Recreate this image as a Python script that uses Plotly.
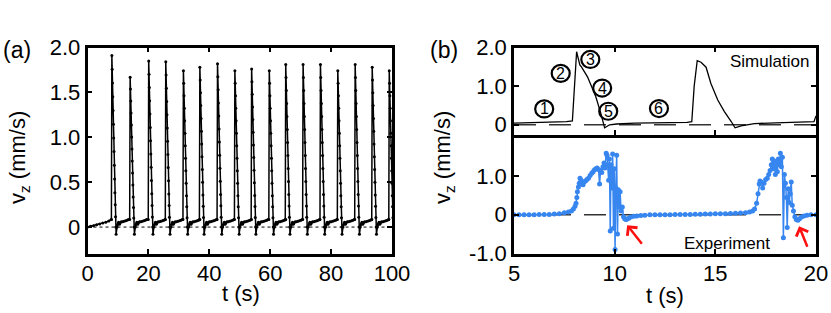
import plotly.graph_objects as go

# ---------------- Panel (a): long simulation -----------------
a_start_t = [0.0, 1.0, 2.0, 3.0, 4.0, 5.0, 6.0, 7.0, 7.8]
a_start_v = [0.0, 0.008, 0.016, 0.025, 0.035, 0.045, 0.055, 0.068, 0.085]
a_peak_t = [8.0, 14.0, 20.1, 25.7, 31.5, 36.9, 42.7, 48.4, 53.9, 59.7,
            65.1, 70.8, 76.5, 82.2, 87.9, 93.5, 99.1]
a_peak_v = [1.91, 1.67, 1.85, 1.84, 1.74, 1.78, 1.82, 1.74, 1.76, 1.74,
            1.81, 1.81, 1.81, 1.74, 1.81, 1.78, 1.74]
# shape of one spike (time after peak, fraction of peak)
a_decay_dt = [0.0, 0.1, 0.2, 0.3, 0.4, 0.5, 0.6, 0.7, 0.8, 0.9, 1.0, 1.1, 1.2, 1.3]
a_decay_frac = [1.0, 0.92, 0.84, 0.76, 0.68, 0.6, 0.52, 0.44, 0.36, 0.28, 0.2, 0.13, 0.06, 0.0]
# recovery after each spike (time after peak, mm/s)
a_tail_dt = [1.4, 1.7, 1.95, 2.2, 2.5, 2.8, 3.1, 3.5, 4.0, 4.5, 5.0, 5.4]
a_tail_v = [-0.08, 0.0, 0.03, 0.055, 0.03, 0.05, 0.06, 0.06, 0.065, 0.07, 0.075, 0.085]

# ---------------- Panel (b) top: simulation ------------------
sim_t = [5.0, 6.0, 7.0, 7.6, 7.9, 8.11, 8.27, 8.35, 8.65, 9.06, 9.31, 9.5,
         9.75, 10.1, 11.0, 12.0, 13.0, 13.6, 13.83, 13.95, 14.1, 14.29, 14.54,
         14.78, 15.12, 15.45, 15.78, 15.98, 16.28, 16.94, 18.0, 19.0, 19.9, 20.0]
sim_v = [0.04, 0.05, 0.06, 0.08, 0.1, 1.89, 1.55, 1.5, 1.24, 0.73, 0.3, -0.08,
         0.0, 0.02, 0.04, 0.045, 0.05, 0.06, 0.08, 1.0, 1.66, 1.62, 1.49,
         1.07, 0.64, 0.34, 0.09, -0.08, -0.03, 0.03, 0.05, 0.06, 0.08, 0.23]

# ---------------- Panel (b) bottom: experiment ---------------
exp_t = [5.0, 5.25, 5.5, 5.75, 6.0, 6.25, 6.5, 6.75, 7.0, 7.25, 7.5, 7.7, 7.85,
         7.95, 8.03, 8.08, 8.12, 8.15, 8.2, 8.24, 8.28, 8.33, 8.38, 8.43, 8.48,
         8.55, 8.62, 8.7, 8.78, 8.86, 8.93, 9.0, 9.07, 9.13, 9.2, 9.25, 9.3,
         9.36, 9.42, 9.47, 9.52, 9.58, 9.62, 9.66, 9.7, 9.74, 9.78, 9.82, 9.86,
         9.9, 9.94, 9.98, 10.02, 10.06, 10.1, 10.14, 10.18, 10.22, 10.27, 10.32,
         10.38, 10.44, 10.5, 10.56, 10.62, 10.7, 10.8, 10.95, 11.1, 11.3, 11.5,
         11.75, 12.0, 12.25, 12.5, 12.75, 13.0, 13.25, 13.5, 13.75, 14.0, 14.25,
         14.5, 14.75, 15.0, 15.25, 15.5, 15.75, 16.0, 16.25, 16.5, 16.7, 16.85,
         16.95, 17.05, 17.12, 17.18, 17.22, 17.28, 17.35, 17.42, 17.5, 17.58,
         17.65, 17.72, 17.78, 17.83, 17.88, 17.93, 17.98, 18.03, 18.08, 18.13,
         18.18, 18.23, 18.28, 18.33, 18.38, 18.43, 18.48, 18.53, 18.57, 18.62,
         18.67, 18.72, 18.77, 18.82, 18.88, 18.95, 19.02, 19.1, 19.18, 19.28,
         19.4, 19.55, 19.75, 20.0]
exp_v = [0.0, 0.0, 0.0, 0.0, 0.0, 0.005, 0.01, 0.01, 0.02, 0.03, 0.05, 0.07, 0.1,
         0.15, 0.22, 0.3, 0.45, 0.6, 0.72, 0.82, 0.95, 0.9, 0.8, 0.78, 0.85,
         0.88, 0.92, 0.95, 1.02, 1.08, 1.12, 1.17, 1.2, 1.22, 1.18, 0.8, 1.15,
         1.1, 1.25, 1.35, 1.22, 1.6, 1.55, 1.3, 0.9, 1.45, -0.42, 1.3, 0.7,
         1.58, -0.35, 1.2, -0.9, 0.7, 1.55, -0.5, 0.65, 0.2, 0.6, 0.1,
         0.2, -0.05, -0.1, -0.12, -0.11, -0.09, -0.06, -0.04, -0.03, -0.02, -0.01,
         0.0, 0.0, 0.0, 0.0, 0.0, 0.005, 0.005, 0.01, 0.01, 0.015, 0.015,
         0.02, 0.02, 0.025, 0.03, 0.03, 0.035, 0.04, 0.045, 0.05, 0.07, 0.1,
         0.15, 0.3, 0.55, 0.8, 0.88, 0.85, 0.7, 0.82, 0.92, 0.95,
         1.05, 1.15, 1.3, 1.45, 1.2, 1.4, 1.05, 1.38, 1.12, 1.45,
         1.3, 1.6, 1.25, 1.5, -0.6, 1.05, 0.82, 0.45, -0.33, 0.68,
         0.32, 0.55, 0.85, 0.25, 0.1, -0.05, -0.12, -0.14, -0.1, -0.06,
         -0.03, -0.01, 0.0, 0.0]

a_xticks = [0, 20, 40, 60, 80, 100]
a_yticks = [0, 0.5, 1.0, 1.5, 2.0]
a_yticktext = ["0", "0.5", "1.0", "1.5", "2.0"]
b_xticks = [5, 10, 15, 20]
b_top_yticks = [0, 1, 2]
b_top_yticktext = ["0", "1.0", "2.0"]
b_bot_yticks = [-1, 0, 1]
b_bot_yticktext = ["-1.0", "0", "1.0"]

stage_labels = ["1", "2", "3", "4", "5", "6"]
stage_t = [6.5, 7.32, 8.79, 9.38, 9.68, 12.2]
stage_v = [0.41, 1.33, 1.69, 0.95, 0.35, 0.42]

# build the panel (a) series from the read values
a_t = list(a_start_t)
a_v = list(a_start_v)
for p, h in zip(a_peak_t, a_peak_v):
    a_t.append(p - 0.15)
    a_v.append(a_tail_v[-1])
    for dt, f in zip(a_decay_dt, a_decay_frac):
        a_t.append(p + dt)
        a_v.append(h * f)
    for dt, v in zip(a_tail_dt, a_tail_v):
        if p + dt < 100.5:
            a_t.append(p + dt)
            a_v.append(v)

FONT = "Liberation Sans, Arial, sans-serif"
BLUE = "#3786f0"

fig = go.Figure()

# panel (a)
fig.add_trace(go.Scatter(x=[0, 100], y=[0, 0], mode="lines", xaxis="x", yaxis="y",
                         line=dict(color="black", width=1, dash="3px,3px"), hoverinfo="skip"))
fig.add_trace(go.Scatter(x=a_t, y=a_v, mode="lines+markers", xaxis="x", yaxis="y",
                         line=dict(color="black", width=1.5),
                         marker=dict(color="black", size=3)))

# panel (b) top
fig.add_trace(go.Scatter(x=[5, 20], y=[0, 0], mode="lines", xaxis="x2", yaxis="y2",
                         line=dict(color="#333333", width=1.5, dash="22px,13px"), hoverinfo="skip"))
fig.add_trace(go.Scatter(x=sim_t, y=sim_v, mode="lines", xaxis="x2", yaxis="y2",
                         line=dict(color="black", width=1.3)))

# panel (b) bottom
fig.add_trace(go.Scatter(x=[5, 20], y=[0, 0], mode="lines", xaxis="x3", yaxis="y3",
                         line=dict(color="#333333", width=1.5, dash="22px,13px"), hoverinfo="skip"))
fig.add_trace(go.Scatter(x=exp_t, y=exp_v, mode="lines+markers", xaxis="x3", yaxis="y3",
                         line=dict(color=BLUE, width=1.5),
                         marker=dict(color=BLUE, size=5)))

axis_common = dict(showline=True, linewidth=2.5, linecolor="black", mirror="allticks",
                   ticks="inside", ticklen=5, tickwidth=2, tickcolor="black",
                   showgrid=False, zeroline=False, automargin=False,
                   tickfont=dict(family=FONT, size=22, color="black"))

H = 313.0
W = 831.0
Y_TOP = (H - 47.5) / H
Y_BOT = (H - 254) / H
Y_MID_TOP = (H - 134.8) / H
Y_MID_BOT = (H - 136.0) / H
A_X = [87.5 / W, 392 / W]
B_X = [514 / W, 816 / W]
Y_STANDOFF = 0

fig.update_layout(
    width=831, height=313, margin=dict(l=0, r=0, t=0, b=0, autoexpand=False),
    paper_bgcolor="white", plot_bgcolor="white", showlegend=False,
    font=dict(family=FONT, size=22, color="black"),
    xaxis=dict(axis_common, domain=A_X, range=[0, 100], anchor="y",
               tickvals=a_xticks, ticklabelstandoff=-2),
    yaxis=dict(axis_common, domain=[Y_BOT, Y_TOP], range=[-0.3, 2.0], anchor="x",
               tickvals=a_yticks, ticktext=a_yticktext, ticklabelstandoff=Y_STANDOFF),
    xaxis2=dict(axis_common, domain=B_X, range=[5, 20], anchor="y2",
                tickvals=b_xticks, showticklabels=False),
    yaxis2=dict(axis_common, domain=[Y_MID_TOP, Y_TOP], range=[-0.26, 2.0], anchor="x2",
                tickvals=b_top_yticks, ticktext=b_top_yticktext, ticklabelstandoff=Y_STANDOFF),
    # bottom panel: bottom line only (the divider is drawn by xaxis2)
    xaxis3=dict(axis_common, domain=B_X, range=[5, 20], anchor="y3", mirror=False,
                tickvals=b_xticks, ticklabelstandoff=-2),
    # ticks hanging down from the divider into the bottom panel
    xaxis4=dict(domain=B_X, range=[5, 20], anchor="y3", overlaying="x3", side="top",
                showline=False, ticks="inside", ticklen=5, tickwidth=2, tickcolor="black",
                tickvals=b_xticks, showticklabels=False, showgrid=False, zeroline=False),
    yaxis3=dict(axis_common, domain=[Y_BOT, Y_MID_BOT], range=[-1.02, 2.05], anchor="x3",
                tickvals=b_bot_yticks, ticktext=b_bot_yticktext, ticklabelstandoff=Y_STANDOFF),
)

ann = []
tf = dict(family=FONT, size=22, color="black")


def pann(text, px, py, **kw):
    d = dict(text=text, x=px / W, y=(H - py) / H, xref="paper", yref="paper",
             xanchor="center", yanchor="middle", showarrow=False, font=tf)
    d.update(kw)
    return d


ann.append(pann("(a)", 17, 50, font=dict(family=FONT, size=23, color="black")))
ann.append(pann("(b)", 444, 50, font=dict(family=FONT, size=23, color="black")))
for xp in (19, 444):
    ann.append(pann("v<sub>z</sub> (mm/s)", xp, 158, textangle=-90))
ann.append(pann("t (s)", 241, 293))
ann.append(pann("t (s)", 665, 295))
ann.append(dict(text="Simulation", x=17.68, y=1.65, xref="x2", yref="y2", showarrow=False,
                xanchor="center", yanchor="middle",
                font=dict(family=FONT, size=17, color="black")))
ann.append(dict(text="Experiment", x=15.56, y=-0.74, xref="x3", yref="y3", showarrow=False,
                xanchor="center", yanchor="middle",
                font=dict(family=FONT, size=17, color="black")))
for lbl, t, v in zip(stage_labels, stage_t, stage_v):
    ann.append(dict(text=lbl, x=t, y=v, xref="x2", yref="y2", showarrow=False,
                    xanchor="center", yanchor="middle",
                    font=dict(family=FONT, size=16, color="black")))
# red arrows
for (hx, hy, tx, ty) in [(10.62, -0.27, 11.41, -0.79), (19.16, -0.30, 19.6, -0.87)]:
    ann.append(dict(x=hx, y=hy, ax=tx, ay=ty, xref="x3", yref="y3", axref="x3", ayref="y3",
                    text="", showarrow=True, arrowhead=4, arrowsize=1.0, arrowwidth=2.5,
                    arrowcolor="#ff1010"))
fig.update_layout(annotations=ann)

shapes = []
for t, v in zip(stage_t, stage_v):
    shapes.append(dict(type="circle", xref="x2", yref="y2", xsizemode="pixel", ysizemode="pixel",
                       xanchor=t, yanchor=v, x0=-9, x1=9, y0=-8.5, y1=8.5,
                       line=dict(color="black", width=2.2)))
fig.update_layout(shapes=shapes)

fig.write_html("out.html", config={"displayModeBar": False},
               post_script="document.body.style.margin='0';")
